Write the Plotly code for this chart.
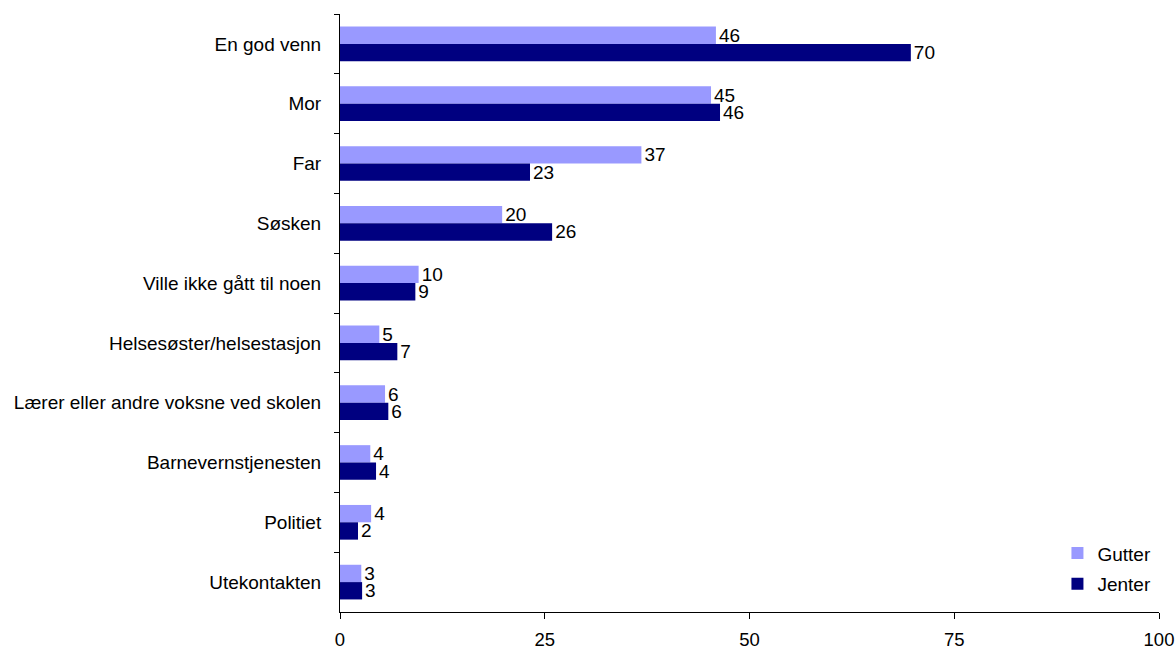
import plotly.graph_objects as go

categories = ["En god venn", "Mor", "Far", "Søsken", "Ville ikke gått til noen",
              "Helsesøster/helsestasjon", "Lærer eller andre voksne ved skolen",
              "Barnevernstjenesten", "Politiet", "Utekontakten"]
gutter = [45.9, 45.3, 36.8, 19.8, 9.6, 4.8, 5.5, 3.7, 3.8, 2.6]
jenter = [69.7, 46.4, 23.2, 25.9, 9.2, 7.0, 5.9, 4.4, 2.2, 2.7]
x_ticks = [0, 25, 50, 75, 100]

font_family = "Liberation Sans, Arial, sans-serif"

fig = go.Figure()
fig.add_trace(go.Bar(y=categories, x=gutter, name="Gutter", orientation="h",
                     legendgroup="g",
                     marker=dict(color="#9999FF", line=dict(width=0)),
                     texttemplate="%{x:.0f}", textposition="outside",
                     constraintext="none",
                     textfont=dict(size=19, color="black", family=font_family),
                     cliponaxis=False))
fig.add_trace(go.Bar(y=categories, x=jenter, name="Jenter", orientation="h",
                     legendgroup="j",
                     marker=dict(color="#000080", line=dict(width=0)),
                     texttemplate="%{x:.0f}", textposition="outside",
                     constraintext="none",
                     textfont=dict(size=19, color="black", family=font_family),
                     cliponaxis=False))

fig.update_layout(
    width=1175, height=649,
    margin=dict(l=340, r=16, t=14, b=37, autoexpand=False),
    plot_bgcolor="white", paper_bgcolor="white",
    barmode="group", bargap=0.42, bargroupgap=0,
    font=dict(family=font_family, color="black"),
    legend=dict(x=0.876, y=0.13, xanchor="left", yanchor="top",
                font=dict(size=19, family=font_family),
                bgcolor="rgba(0,0,0,0)", itemwidth=30, tracegroupgap=3),
    xaxis=dict(range=[0, 100], tickvals=x_ticks, showgrid=False, zeroline=False,
               showline=True, linecolor="black", linewidth=1,
               ticks="outside", ticklen=6, tickcolor="black", automargin=False,
               ticklabelstandoff=5,
               tickfont=dict(size=18.5, family=font_family)),
    yaxis=dict(autorange="reversed", showgrid=False, zeroline=False,
               showline=True, linecolor="black", linewidth=1, automargin=False,
               ticks="outside", ticklen=5, tickcolor="black", tickson="boundaries",
               tickfont=dict(size=19, family=font_family), ticklabelstandoff=14),
)

# remove the default page margin so the figure fills the window exactly
fig.write_html("out.html", config={"displayModeBar": False},
               post_script="document.body.style.margin='0';")
